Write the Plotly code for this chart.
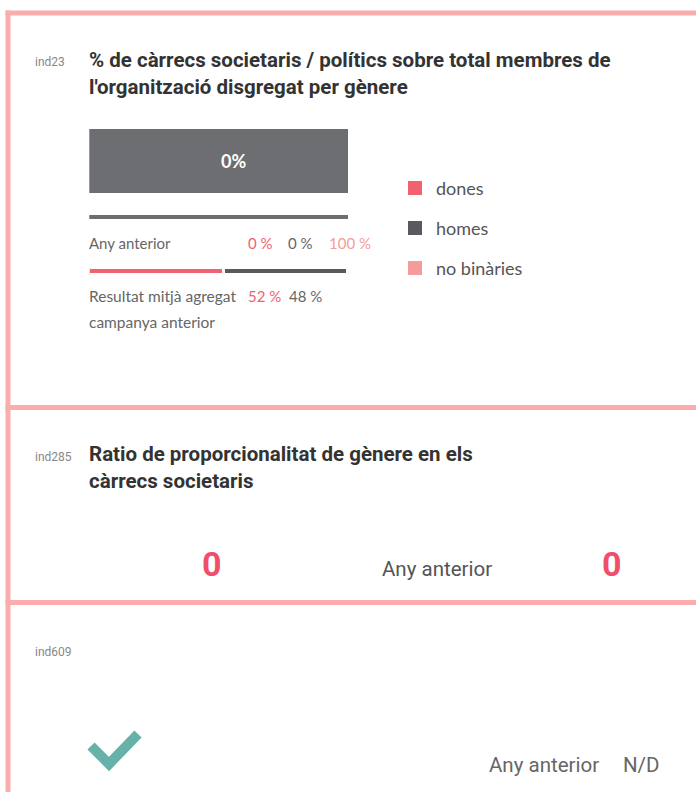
import plotly.graph_objects as go

# ---------------- data ----------------
genders = ["dones", "homes", "no binàries"]
gender_colors = ["#f0626f", "#5c5860", "#f59b9b"]

ind23_code = "ind23"
ind23_title = ["% de càrrecs societaris / polítics sobre total membres de",
               "l'organització disgregat per gènere"]
current_total = [100]          # full bar (no gender data)
current_label = "0%"
prev_year_total = [100]
prev_year_pct = [0, 0, 100]     # dones, homes, no binàries
avg_pct = [52, 48]              # dones, homes (campanya anterior)

ind285_code = "ind285"
ind285_title = ["Ratio de proporcionalitat de gènere en els", "càrrecs societaris"]
ratio_current = 0
ratio_prev = 0

ind609_code = "ind609"
ind609_prev = "N/D"

# ---------------- style ----------------
W, H = 696, 792
BORDER = "#fbadad"
GREY_BAR = "#6d6e71"
TXT = "#666666"
TITLE = "#333333"
BODY_FONT = "Lato, Open Sans, sans-serif"
COND_FONT = "Roboto, sans-serif"

fig = go.Figure()

# bars on a 0-100 % axis placed over the bar area
bar_kw = dict(orientation="h", xaxis="x2", yaxis="y", hoverinfo="skip", showlegend=False)
fig.add_trace(go.Bar(x=current_total, y=[161], width=63.5, marker=dict(color=GREY_BAR, line=dict(width=0)), **bar_kw))
fig.add_trace(go.Bar(x=prev_year_total, y=[217], width=4, marker=dict(color=GREY_BAR, line=dict(width=0)), **bar_kw))
for val, col in zip(avg_pct, gender_colors[:2]):
    fig.add_trace(go.Bar(x=[val], y=[271], width=7, marker=dict(color=col, line=dict(color="white", width=3)), **bar_kw))

# ---------------- shapes ----------------
shapes = []
def rect(x0, y0, x1, y1, color):
    shapes.append(dict(type="rect", xref="x", yref="y", x0=x0, y0=y0, x1=x1, y1=y1,
                       fillcolor=color, line=dict(width=0), layer="above"))

rect(5.5, 10.5, W, 15.5, BORDER)
rect(5.5, 10.5, 10.5, H, BORDER)
rect(5.5, 405, W, 410, BORDER)
rect(5.5, 600, W, 605, BORDER)

# legend squares
for i, col in enumerate(gender_colors):
    yc = 188 + 40 * i
    rect(408, yc - 7, 422, yc + 7, col)

# check mark
shapes.append(dict(type="path", xref="x", yref="y", path="M 91,746 L 109,764 L 138,734",
                   line=dict(color="#66b2a8", width=10), layer="above"))

# ---------------- annotations ----------------
ann = []
def txt(x, y, s, size, color, family=BODY_FONT, anchor="left", bold=False, xref="x"):
    if bold:
        s = "<b>" + s + "</b>"
    ann.append(dict(x=x, y=y, xref=xref, yref="y", text=s, showarrow=False, xanchor=anchor,
                    yanchor="middle", font=dict(size=size, color=color, family=family)))

# section 1
txt(33, 62, ind23_code, 12, "#888888", COND_FONT)
txt(87, 60, ind23_title[0], 20.5, TITLE, COND_FONT, bold=True)
txt(87, 87, ind23_title[1], 20.5, TITLE, COND_FONT, bold=True)

txt(55.5, 161, current_label, 18, "white", "Lato, sans-serif", anchor="center", bold=True, xref="x2")

txt(87, 243, "Any anterior", 15, TXT)
prev_x = [246, 286, 327]
prev_cols = [gender_colors[0], TXT, gender_colors[2]]
for x, v, c in zip(prev_x, prev_year_pct, prev_cols):
    txt(x, 243, f"{v} %", 15, c)

txt(87, 296, "Resultat mitjà agregat", 15.5, TXT)
txt(87, 322, "campanya anterior", 15.5, TXT)
for x, v, c in zip([246, 287], avg_pct, [gender_colors[0], TXT]):
    txt(x, 296, f"{v} %", 15, c)

for i, g in enumerate(genders):
    txt(434, 188 + 40 * i, g, 18, "#555555")

# section 2
txt(33, 457, ind285_code, 12, "#888888", COND_FONT)
txt(87, 454, ind285_title[0], 20.5, TITLE, COND_FONT, bold=True)
txt(87, 481, ind285_title[1], 20.5, TITLE, COND_FONT, bold=True)
txt(212, 564, str(ratio_current), 34, "#ee4f6a", COND_FONT, anchor="center", bold=True)
txt(380, 569, "Any anterior", 20.5, "#555555", COND_FONT)
txt(612, 564, str(ratio_prev), 34, "#ee4f6a", COND_FONT, anchor="center", bold=True)

# section 3
txt(33, 652, ind609_code, 12, "#888888", COND_FONT)
txt(487, 765, "Any anterior", 20.5, TXT, COND_FONT)
txt(621, 765, ind609_prev, 20.5, TXT, COND_FONT)

fig.update_layout(
    width=W, height=H, margin=dict(l=0, r=0, t=0, b=0),
    paper_bgcolor="white", plot_bgcolor="white",
    barmode="stack", bargap=0,
    xaxis=dict(range=[0, W], visible=False, domain=[0, 1], fixedrange=True),
    xaxis2=dict(range=[0, 100], visible=False, domain=[89.3 / W, 348.3 / W], anchor="y",
                fixedrange=True),
    yaxis=dict(range=[H, 0], visible=False, domain=[0, 1], fixedrange=True),
    shapes=shapes, annotations=ann, showlegend=False,
)

fig.write_html("out.html", config={"displayModeBar": False},
               post_script="document.body.style.margin='0px';document.body.style.overflow='hidden';")
